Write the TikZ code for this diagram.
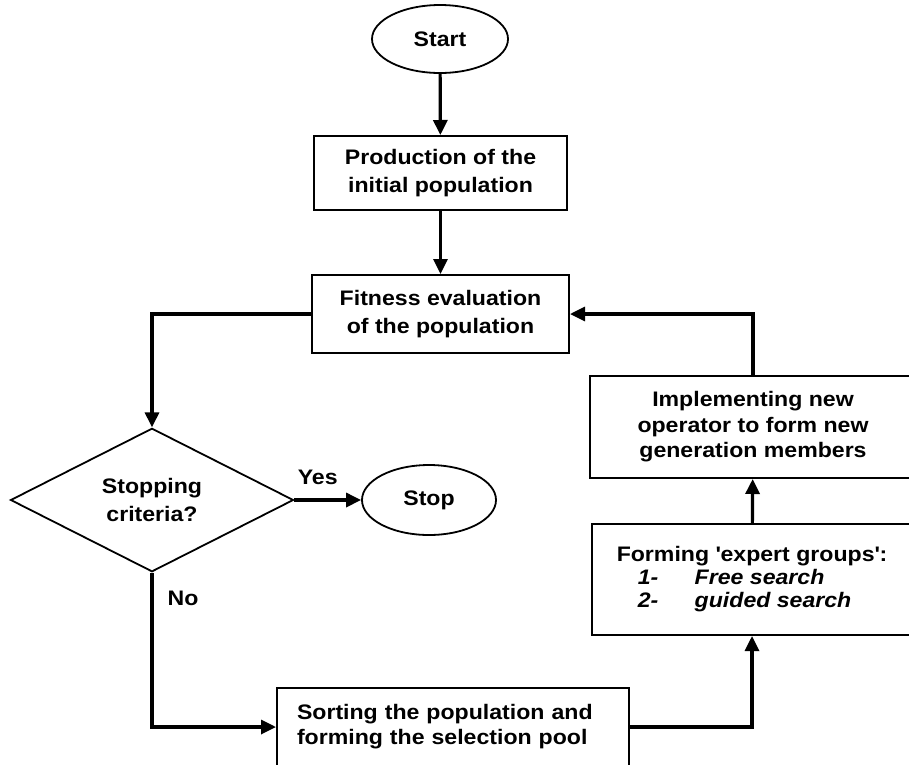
\documentclass[tikz,border=0pt]{standalone}
\usepackage{fontspec}
\setmainfont{Liberation Sans}[FakeStretch=1.1]
\usetikzlibrary{shapes.geometric,arrows.meta}
\begin{document}
\begin{tikzpicture}[x=1pt,y=1pt]
\tikzstyle{every node}+=[inner sep=0pt, font=\fontsize{21}{28}\selectfont\bfseries]
\tikzstyle{term}=[draw, ellipse, line width=1.8pt]
\tikzstyle{proc}=[draw, rectangle, line width=2pt, align=center]
\tikzstyle{test}=[draw, diamond, line width=1.8pt, align=center, minimum width=283pt, minimum height=141pt]
\tikzstyle{flow}=[line width=3.2pt, -{Triangle[length=15pt,width=14pt]}]
\useasboundingbox (0,0) rectangle (909,-764);
\node [term, minimum width=136pt, minimum height=68pt] (start) at (440,-39) {Start};
\node [proc, minimum width=253pt, minimum height=74pt] (prod) at (440.5,-173) {Production of the\\initial population};
\node [proc, minimum width=257pt, minimum height=78pt] (fit) at (440.5,-314) {Fitness evaluation\\of the population};
\node [test] (crit) at (152,-500) {Stopping\\criteria?};
\node [term, minimum width=134pt, minimum height=70pt] (stop) at (429,-500) {Stop};
\node [proc, minimum width=352pt, minimum height=78pt, text width=312pt, align=left, font=\fontsize{21}{25}\selectfont\bfseries] (sort) at (453,-727) {Sorting the population and\\forming the selection pool};
\node [proc, minimum width=320pt, minimum height=111pt, align=left, font=\fontsize{21}{23}\selectfont\bfseries] (form) at (752,-579.5) {Forming \textquotesingle expert groups\textquotesingle:\\\hspace*{21pt}\makebox[57pt][l]{\itshape 1-}{\itshape Free search}\\\hspace*{21pt}\makebox[57pt][l]{\itshape 2-}{\itshape guided search}};
\node [proc, minimum width=326pt, minimum height=102pt, font=\fontsize{21}{25.5}\selectfont\bfseries] (impl) at (753,-427) {Implementing new\\operator to form new\\generation members};
\draw [flow] (start) -- (prod);
\draw [flow] (prod) -- (fit);
\draw [flow] (fit.west) -| (crit.north);
\draw [flow] (crit.east) -- node [above=14pt, pos=0.35] (yes) {Yes} (stop.west);
\draw [flow] (crit.south) -- node [right=14pt, pos=0.165] (no) {No} (crit.south |- sort.west) -- (sort.west);
\draw [flow] (sort.east) -| (form.south);
\draw [flow] (form) -- (impl);
\draw [flow] (impl.north) |- (fit.east);
\end{tikzpicture}
\end{document}
